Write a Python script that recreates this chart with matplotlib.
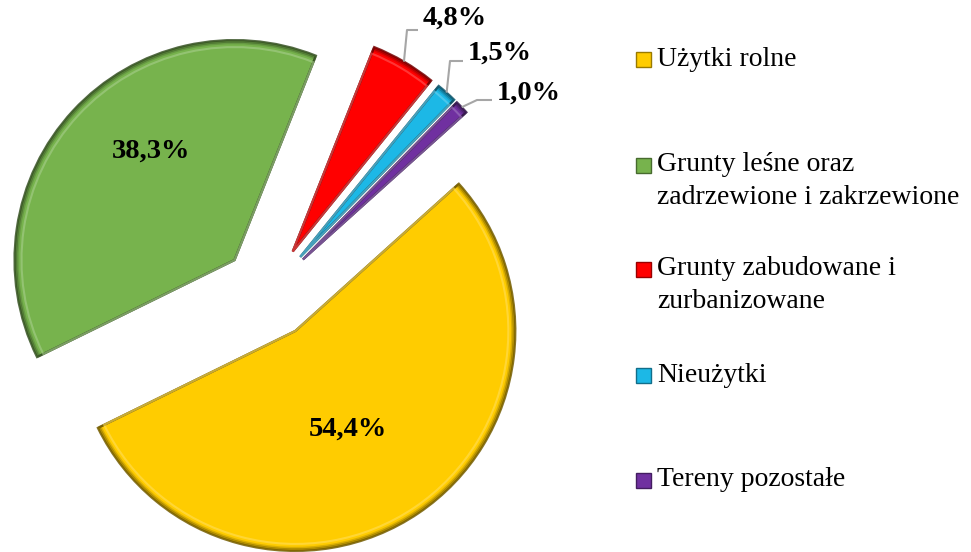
import numpy as np
import matplotlib.pyplot as plt
from matplotlib.patches import Wedge, Rectangle
from matplotlib.colors import to_rgb

# data
categories = ['Użytki rolne',
              'Grunty leśne oraz\nzadrzewione i zakrzewione',
              'Grunty zabudowane i\nzurbanizowane',
              'Nieużytki',
              'Tereny pozostałe']
values = [54.4, 38.3, 4.8, 1.5, 1.0]
pct_labels = ['54,4%', '38,3%', '4,8%', '1,5%', '1,0%']
colors = ['#FFCC00', '#77B34D', '#FF0000', '#1CB8E6', '#7030A0']

W, H = 971, 552
fig = plt.figure(figsize=(W / 100, H / 100), dpi=100)
ax = fig.add_axes([0, 0, 1, 1])

R = 220
center = (269, H - 292)
expl = [47] * len(values)

wedges, _ = ax.pie(values, colors=colors, radius=R, center=center,
                   explode=expl, startangle=42, counterclock=False,
                   frame=True, wedgeprops=dict(linewidth=0))
ax.set_xlim(0, W)
ax.set_ylim(0, H)
ax.set_aspect('equal')
ax.axis('off')


def shade(c, f):
    r, g, b = to_rgb(c)
    return (r * f, g * f, b * f)


def tint(c, f):
    r, g, b = to_rgb(c)
    return (r + (1 - r) * f, g + (1 - g) * f, b + (1 - b) * f)


# bevel look: dark rim + light inner highlight
for w, c in zip(wedges, colors):
    cx, cy = w.center
    t1, t2 = w.theta1, w.theta2
    for k, a in enumerate([0.85, 0.5, 0.25]):
        ax.add_patch(Wedge((cx, cy), R - k * 1.5, t1, t2, fill=False,
                           edgecolor=shade(c, 0.45), linewidth=1.6, alpha=a))
    ax.add_patch(Wedge((cx, cy), R - 7, t1, t2, fill=False,
                       edgecolor=tint(c, 0.35), linewidth=1.5, alpha=0.6))

font_pct = dict(family='Liberation Serif', weight='bold', fontsize=20.5, color='black')

# big slice labels inside (distance as fraction of radius, angle shift in deg)
inner_pos = [(0.49, -6), (0.64, -10)]
for i, (d, shift) in enumerate(inner_pos):
    w = wedges[i]
    th = np.deg2rad((w.theta1 + w.theta2) / 2 + shift)
    cx, cy = w.center
    ax.text(cx + d * R * np.cos(th) + 2, cy + d * R * np.sin(th) - 3, pct_labels[i],
            ha='center', va='center', **font_pct)

# small slice labels with leader lines
label_pos = [(423, 18), (468, 53), (497, 93)]
elbows = [(407, 30), (450, 61), (477, 100)]
for j, i in enumerate(range(2, 5)):
    w = wedges[i]
    th = np.deg2rad((w.theta1 + w.theta2) / 2)
    cx, cy = w.center
    px, py = cx + R * np.cos(th), cy + R * np.sin(th)
    ex, ey = elbows[j][0], H - elbows[j][1]
    lx, ly = label_pos[j][0], H - label_pos[j][1]
    ax.plot([px, ex, lx - 5], [py, ey, ey], color='#A6A6A6', lw=1.5,
            solid_capstyle='butt')
    ax.text(lx, ly, pct_labels[i], ha='left', va='center', **font_pct)

# legend
leg_y = [59, 165, 269, 375, 480]
for lab, c, y in zip(categories, colors, leg_y):
    ax.add_patch(Rectangle((636, H - y - 7.5), 15, 15, facecolor=c,
                           edgecolor=shade(c, 0.6), linewidth=1))
    n = lab.count('\n')
    ax.text(657, H - y - n * 16, lab, ha='left', va='center',
            family='Liberation Serif', fontsize=20, color='black',
            linespacing=1.4)

fig.savefig('out.png', dpi=100)
